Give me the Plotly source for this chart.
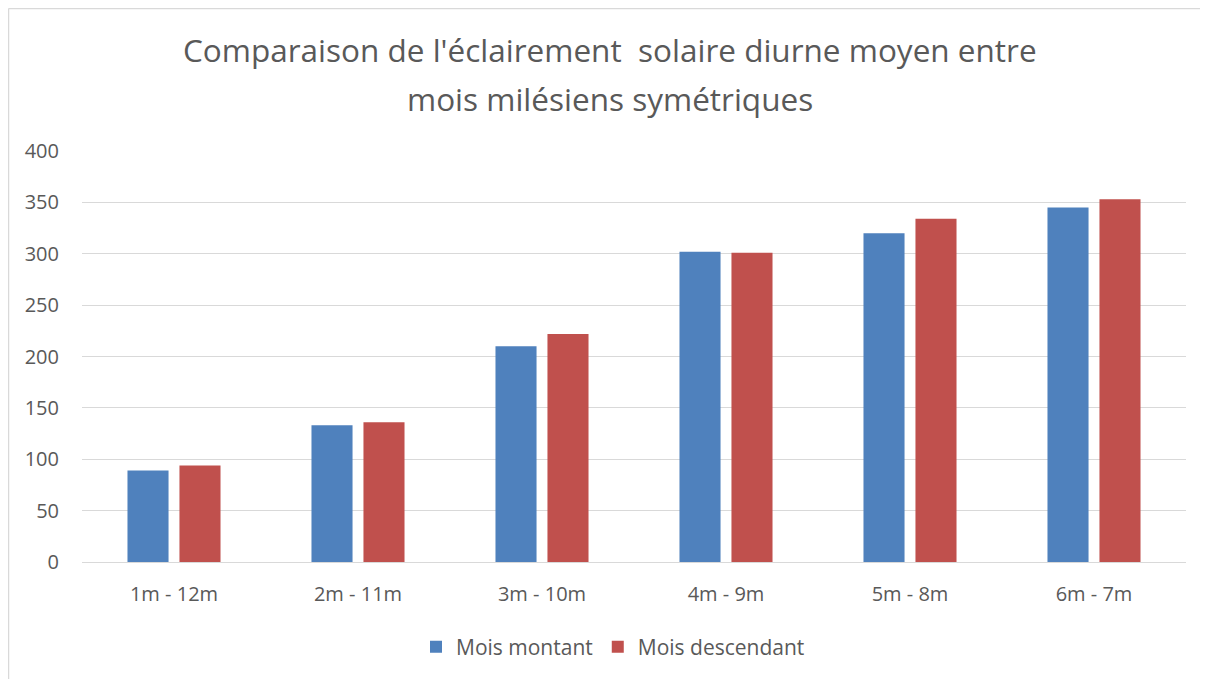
import plotly.graph_objects as go

categories = ["1m - 12m", "2m - 11m", "3m - 10m", "4m - 9m", "5m - 8m", "6m - 7m"]
mois_montant = [89, 133, 210, 302, 320, 345]
mois_descendant = [94, 136, 222, 301, 334, 353]
title_lines = ["Comparaison de l'éclairement  solaire diurne moyen entre",
               "mois milésiens symétriques"]
y_ticks = [0, 50, 100, 150, 200, 250, 300, 350, 400]

font_family = "'Open Sans', 'Noto Sans', sans-serif"
text_color = "#595959"

# page has an 8px body margin: work in page pixel coordinates
OFF = 8
PW, PH = 1208, 679
W, H = PW - OFF, PH - OFF
plot_left, plot_right, plot_top, plot_bottom = 82, 1186, 151, 562
L = plot_left - OFF
R = W - (plot_right - OFF)
T = plot_top - OFF
B = H - (plot_bottom - OFF)
pw = plot_right - plot_left
ph = plot_bottom - plot_top


def px_x(x):
    return (x - plot_left) / pw


def px_y(y):
    return (plot_bottom - y) / ph


fig = go.Figure()
fig.add_trace(go.Bar(x=categories, y=mois_montant, name="Mois montant",
                     marker=dict(color="#4F81BD", line=dict(width=0))))
fig.add_trace(go.Bar(x=categories, y=mois_descendant, name="Mois descendant",
                     marker=dict(color="#C0504D", line=dict(width=0))))

fig.update_layout(
    width=W, height=H,
    margin=dict(l=L, r=R, t=T, b=B, pad=0),
    paper_bgcolor="white", plot_bgcolor="white",
    barmode="group", bargap=0.435, bargroupgap=0.21,
    font=dict(family=font_family, color=text_color, size=20),
    showlegend=True,
    legend=dict(orientation="h", x=px_x(613), xanchor="center", y=px_y(647), yanchor="middle",
                font=dict(size=21, color=text_color), traceorder="normal"),
    xaxis=dict(showgrid=False, showline=False, ticks="", tickfont=dict(size=20),
               ticklabelstandoff=18),
    yaxis=dict(range=[0, 400], tickvals=y_ticks, showgrid=True, gridcolor="#D9D9D9",
               gridwidth=1, zeroline=True, zerolinecolor="#D9D9D9", zerolinewidth=1,
               showline=False, ticks="", tickfont=dict(size=20), ticklabelstandoff=22),
)

for i, line in enumerate(title_lines):
    fig.add_annotation(text=line, xref="paper", yref="paper",
                       x=px_x(610), y=px_y(50 + 48 * i), xanchor="center", yanchor="middle",
                       showarrow=False, font=dict(size=31.5, color=text_color, family=font_family))

# chart frame: only left and top edges visible in the view
fig.add_shape(type="line", xref="paper", yref="paper",
              x0=px_x(8.5), x1=px_x(8.5), y0=px_y(700), y1=px_y(8.5),
              line=dict(color="#D9D9D9", width=1.5), layer="below")
fig.add_shape(type="line", xref="paper", yref="paper",
              x0=px_x(8.5), x1=px_x(1220), y0=px_y(8.5), y1=px_y(8.5),
              line=dict(color="#D9D9D9", width=1.5), layer="below")

fig.write_html("out.html")
